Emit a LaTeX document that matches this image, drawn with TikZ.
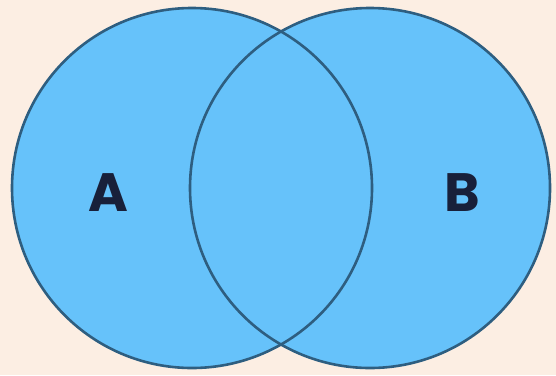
\documentclass[tikz,border=0pt]{standalone}
\usepackage{fontspec}
\setsansfont{Poppins}
\definecolor{peach}{HTML}{FCEEE3}
\definecolor{setblue}{HTML}{66C2FA}
\definecolor{rimblue}{HTML}{2E5E80}
\definecolor{inkblue}{HTML}{18203A}

\begin{document}
\begin{tikzpicture}[x=1pt,y=-1pt,font=\sffamily\bfseries]
\fill[peach] (0,0) rectangle (556,375);
\useasboundingbox (0,0) rectangle (556,375);
\fill[setblue] (192,188) circle (180);
\fill[setblue] (370,188) circle (180);
\draw[rimblue,line width=2.6pt] (192,188) circle (180);
\draw[rimblue,line width=2.6pt] (370,188) circle (180);
\node[inkblue,font=\sffamily\bfseries\fontsize{54}{54}\selectfont] (labA) at (108,193) {A};
\node[inkblue,font=\sffamily\bfseries\fontsize{54}{54}\selectfont] (labB) at (462,193) {B};
\end{tikzpicture}
\end{document}
